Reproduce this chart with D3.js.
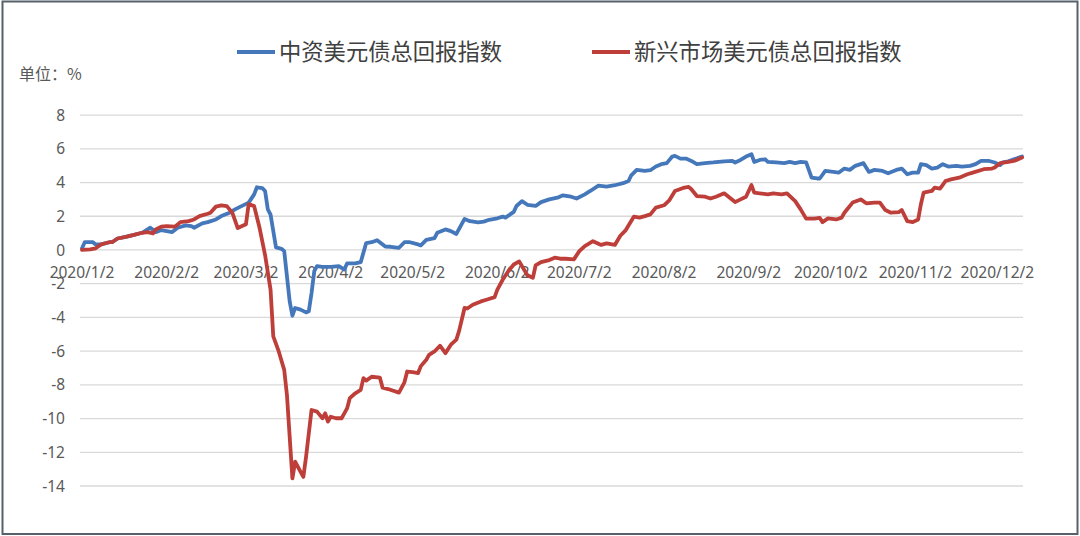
<!DOCTYPE html>
<html lang="zh">
<head>
    <meta charset="UTF-8">
    <title>美元债总回报指数</title>
    <script type="text/javascript" src="https://cdnjs.cloudflare.com/ajax/libs/d3/7.8.5/d3.min.js"></script>
    <style>
        body { margin: 0; background: #fff; }
        svg { display: block; }
        .num { font-family: "Noto Sans", "DejaVu Sans", sans-serif; fill: #595959; }
        .cjk { font-family: "Noto Sans CJK SC", sans-serif; }
    </style>
</head>
<body>
<svg id="chart" width="1080" height="536"></svg>

<script type="text/javascript">
    const seriesNames = ["中资美元债总回报指数", "新兴市场美元债总回报指数"];
    const seriesColors = ["#4577bb", "#be3f3a"];
    const unitLabel = "单位：%";

    const xTickLabels = ["2020/1/2", "2020/2/2", "2020/3/2", "2020/4/2", "2020/5/2", "2020/6/2",
        "2020/7/2", "2020/8/2", "2020/9/2", "2020/10/2", "2020/11/2", "2020/12/2"];
    const yTicks = [8, 6, 4, 2, 0, -2, -4, -6, -8, -10, -12, -14];

    // [month-day, value %]
    const chineseUsd = [
        ["01-02", 0.1], ["01-03", 0.46], ["01-06", 0.46], ["01-07", 0.33], ["01-09", 0.33], ["01-12", 0.46],
        ["01-13", 0.46], ["01-15", 0.68], ["01-18", 0.78], ["01-21", 0.9], ["01-24", 1.02], ["01-26", 1.22],
        ["01-27", 1.32], ["01-29", 1.06], ["01-31", 1.18], ["02-02", 1.12], ["02-04", 1.06], ["02-06", 1.32],
        ["02-09", 1.46], ["02-11", 1.42], ["02-12", 1.32], ["02-15", 1.58], ["02-17", 1.65], ["02-20", 1.81],
        ["02-22", 2.01], ["02-25", 2.21], ["02-27", 2.41], ["02-29", 2.57], ["03-03", 2.81], ["03-05", 3.3],
        ["03-06", 3.72], ["03-08", 3.67], ["03-09", 3.5], ["03-10", 2.41], ["03-11", 2.1], ["03-13", 0.15],
        ["03-15", 0.07], ["03-16", -0.07], ["03-17", -1.56], ["03-18", -3.05], ["03-19", -3.9], ["03-20", -3.44],
        ["03-22", -3.54], ["03-24", -3.7], ["03-25", -3.64], ["03-26", -2.55], ["03-27", -1.26], ["03-28", -0.96],
        ["03-30", -1.0], ["04-02", -1.0], ["04-05", -0.96], ["04-07", -1.16], ["04-08", -0.8], ["04-11", -0.8],
        ["04-13", -0.72], ["04-15", 0.41], ["04-17", 0.46], ["04-19", 0.58], ["04-22", 0.2], ["04-24", 0.19],
        ["04-27", 0.13], ["04-29", 0.46], ["05-01", 0.46], ["05-04", 0.33], ["05-05", 0.27], ["05-07", 0.6],
        ["05-10", 0.7], ["05-11", 1.02], ["05-14", 1.22], ["05-16", 1.12], ["05-18", 0.95], ["05-21", 1.84],
        ["05-23", 1.71], ["05-26", 1.64], ["05-28", 1.68], ["05-30", 1.79], ["06-02", 1.88], ["06-04", 1.98],
        ["06-05", 1.92], ["06-08", 2.26], ["06-09", 2.61], ["06-11", 2.9], ["06-13", 2.68], ["06-16", 2.61],
        ["06-18", 2.84], ["06-21", 3.0], ["06-24", 3.1], ["06-26", 3.24], ["06-29", 3.16], ["07-01", 3.05],
        ["07-04", 3.3], ["07-06", 3.5], ["07-09", 3.82], ["07-12", 3.76], ["07-15", 3.84], ["07-18", 3.96],
        ["07-20", 4.09], ["07-21", 4.43], ["07-23", 4.75], ["07-26", 4.69], ["07-28", 4.73], ["07-30", 4.95],
        ["08-01", 5.09], ["08-03", 5.15], ["08-05", 5.54], ["08-06", 5.58], ["08-08", 5.42], ["08-10", 5.42],
        ["08-12", 5.28], ["08-14", 5.09], ["08-17", 5.15], ["08-20", 5.19], ["08-24", 5.26], ["08-27", 5.28],
        ["08-28", 5.19], ["08-30", 5.34], ["09-01", 5.54], ["09-03", 5.68], ["09-04", 5.22], ["09-06", 5.34],
        ["09-08", 5.38], ["09-09", 5.22], ["09-12", 5.19], ["09-15", 5.15], ["09-17", 5.22], ["09-19", 5.15],
        ["09-21", 5.22], ["09-23", 5.19], ["09-25", 4.29], ["09-27", 4.24], ["09-28", 4.24], ["09-30", 4.69],
        ["10-03", 4.63], ["10-05", 4.59], ["10-07", 4.83], ["10-09", 4.75], ["10-11", 4.99], ["10-14", 5.15],
        ["10-16", 4.63], ["10-18", 4.75], ["10-21", 4.69], ["10-23", 4.55], ["10-26", 4.75], ["10-28", 4.83],
        ["10-30", 4.49], ["11-01", 4.59], ["11-03", 4.59], ["11-04", 5.09], ["11-06", 5.03], ["11-08", 4.83],
        ["11-10", 4.89], ["11-12", 5.09], ["11-14", 4.95], ["11-17", 4.99], ["11-19", 4.95], ["11-22", 4.99],
        ["11-24", 5.09], ["11-26", 5.28], ["11-29", 5.28], ["12-01", 5.19], ["12-03", 5.03], ["12-04", 5.19],
        ["12-06", 5.26], ["12-08", 5.38], ["12-11", 5.54]
    ];

    const emergingUsd = [
        ["01-02", 0], ["01-05", 0.03], ["01-07", 0.1], ["01-09", 0.33], ["01-12", 0.46], ["01-13", 0.46],
        ["01-15", 0.68], ["01-18", 0.78], ["01-21", 0.9], ["01-24", 1.02], ["01-26", 1.06], ["01-28", 0.98],
        ["01-29", 1.22], ["01-31", 1.38], ["02-02", 1.42], ["02-05", 1.38], ["02-07", 1.65], ["02-10", 1.71],
        ["02-12", 1.81], ["02-14", 2.01], ["02-17", 2.15], ["02-18", 2.21], ["02-20", 2.57], ["02-22", 2.65],
        ["02-24", 2.6], ["02-26", 2.21], ["02-28", 1.3], ["02-29", 1.38], ["03-02", 1.52], ["03-03", 2.72],
        ["03-05", 2.6], ["03-07", 1.3], ["03-09", -0.3], ["03-11", -2.35], ["03-12", -5.13], ["03-14", -6.02],
        ["03-16", -7.11], ["03-17", -8.6], ["03-19", -13.55], ["03-20", -12.56], ["03-22", -13.16], ["03-23", -13.46],
        ["03-24", -12.27], ["03-26", -9.49], ["03-28", -9.59], ["03-30", -9.98], ["03-31", -9.69], ["04-01", -10.18],
        ["04-02", -9.89], ["04-04", -9.98], ["04-06", -9.98], ["04-07", -9.69], ["04-08", -9.4], ["04-09", -8.79],
        ["04-11", -8.5], ["04-13", -8.3], ["04-14", -7.6], ["04-15", -7.75], ["04-17", -7.52], ["04-20", -7.57],
        ["04-21", -8.17], ["04-23", -8.25], ["04-27", -8.46], ["04-29", -7.85], ["04-30", -7.21], ["05-02", -7.25],
        ["05-04", -7.3], ["05-05", -6.89], ["05-07", -6.51], ["05-08", -6.22], ["05-10", -6.02], ["05-12", -5.68],
        ["05-14", -6.12], ["05-16", -5.62], ["05-18", -5.32], ["05-19", -4.8], ["05-21", -3.44], ["05-22", -3.47],
        ["05-24", -3.25], ["05-27", -3.05], ["05-29", -2.95], ["06-01", -2.8], ["06-02", -2.35], ["06-04", -1.75],
        ["06-06", -1.26], ["06-08", -0.86], ["06-10", -0.68], ["06-11", -0.96], ["06-13", -1.5], ["06-15", -1.65],
        ["06-16", -0.92], ["06-18", -0.72], ["06-21", -0.6], ["06-23", -0.46], ["06-25", -0.52], ["06-27", -0.52],
        ["06-30", -0.56], ["07-02", -0.07], ["07-04", 0.23], ["07-07", 0.52], ["07-10", 0.3], ["07-12", 0.39],
        ["07-15", 0.3], ["07-17", 0.84], ["07-19", 1.18], ["07-22", 1.98], ["07-24", 1.92], ["07-26", 2.01],
        ["07-28", 2.11], ["07-30", 2.51], ["08-02", 2.65], ["08-04", 2.96], ["08-06", 3.5], ["08-09", 3.68],
        ["08-11", 3.74], ["08-12", 3.6], ["08-14", 3.2], ["08-17", 3.16], ["08-19", 3.05], ["08-21", 3.16],
        ["08-24", 3.36], ["08-28", 2.84], ["08-30", 3.0], ["09-01", 3.16], ["09-03", 3.85], ["09-04", 3.4],
        ["09-06", 3.36], ["09-09", 3.3], ["09-11", 3.36], ["09-14", 3.3], ["09-16", 3.36], ["09-19", 2.9],
        ["09-21", 2.41], ["09-23", 1.86], ["09-26", 1.86], ["09-28", 1.9], ["09-29", 1.65], ["10-01", 1.87],
        ["10-04", 1.81], ["10-06", 1.92], ["10-07", 2.21], ["10-10", 2.81], ["10-13", 3.0], ["10-15", 2.77],
        ["10-18", 2.81], ["10-20", 2.81], ["10-22", 2.37], ["10-24", 2.21], ["10-27", 2.25], ["10-28", 2.37],
        ["10-30", 1.71], ["11-01", 1.65], ["11-03", 1.81], ["11-04", 2.71], ["11-05", 3.4], ["11-08", 3.5],
        ["11-09", 3.7], ["11-11", 3.64], ["11-13", 4.09], ["11-15", 4.19], ["11-18", 4.29], ["11-21", 4.49],
        ["11-23", 4.59], ["11-27", 4.79], ["11-30", 4.83], ["12-01", 4.89], ["12-03", 5.15], ["12-06", 5.22],
        ["12-08", 5.28], ["12-09", 5.34], ["12-11", 5.48]
    ];

    const parseDay = d3.timeParse("%Y-%m-%d");
    const parseTick = d3.timeParse("%Y/%m/%d");
    const toPoints = rows => rows.map(r => ({ date: parseDay("2020-" + r[0]), value: r[1] }));
    const allSeries = [toPoints(chineseUsd), toPoints(emergingUsd)];

    const svg = d3.select("#chart");

    // outer frame
    svg.append("rect")
        .attr("x", 2.5).attr("y", 1.5)
        .attr("width", 1075).attr("height", 532.5)
        .attr("fill", "#fff")
        .attr("stroke", "#56616b")
        .attr("stroke-width", 2);

    const x = d3.scaleTime()
        .domain([parseDay("2020-01-02"), parseDay("2020-12-11")])
        .range([82, 1022]);
    const y = d3.scaleLinear()
        .domain([-14, 8])
        .range([486, 115.1]);

    // gridlines
    svg.append("g")
        .selectAll("line")
        .data(yTicks)
        .enter().append("line")
        .attr("x1", 80).attr("x2", 1023)
        .attr("y1", d => y(d)).attr("y2", d => y(d))
        .attr("stroke", "#d9d9d9")
        .attr("stroke-width", 1.3);

    // y tick labels
    svg.append("g")
        .selectAll("text")
        .data(yTicks)
        .enter().append("text")
        .attr("class", "num")
        .attr("x", 65)
        .attr("y", d => y(d))
        .attr("dy", "0.36em")
        .attr("text-anchor", "end")
        .attr("font-size", 15.5)
        .text(d => d);

    // x tick labels, sitting under the zero line
    svg.append("g")
        .selectAll("text")
        .data(xTickLabels)
        .enter().append("text")
        .attr("class", "num")
        .attr("x", d => x(parseTick(d)))
        .attr("y", 278)
        .attr("text-anchor", "middle")
        .attr("font-size", 15.5)
        .text(d => d);

    svg.append("text")
        .attr("class", "cjk")
        .attr("x", 19).attr("y", 80)
        .attr("font-size", 16)
        .attr("fill", "#595959")
        .text(unitLabel);

    const line = d3.line()
        .x(d => x(d.date))
        .y(d => y(d.value));

    svg.append("g")
        .selectAll("path")
        .data(allSeries)
        .enter().append("path")
        .attr("d", line)
        .attr("fill", "none")
        .attr("stroke", (d, i) => seriesColors[i])
        .attr("stroke-width", 3.8)
        .attr("stroke-linejoin", "round")
        .attr("stroke-linecap", "round");

    // legend
    const legendX = [237, 592];
    const legend = svg.append("g")
        .selectAll("g")
        .data(seriesNames)
        .enter().append("g")
        .attr("transform", (d, i) => "translate(" + legendX[i] + ",52)");
    legend.append("line")
        .attr("x1", 0).attr("x2", 38)
        .attr("stroke", (d, i) => seriesColors[i])
        .attr("stroke-width", 4);
    legend.append("text")
        .attr("class", "cjk")
        .attr("x", 42).attr("y", 8)
        .attr("font-size", 22.3)
        .attr("fill", "#404040")
        .text(d => d);
</script>
</body>
</html>
